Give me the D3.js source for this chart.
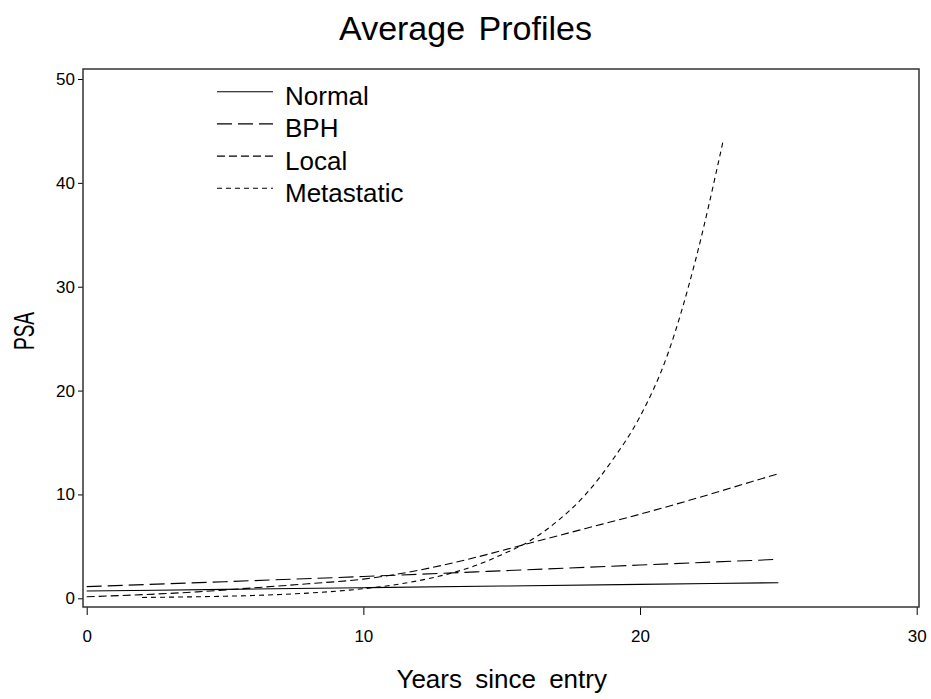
<!DOCTYPE html>
<html>
<head>
    <title>Average Profiles</title>
    <script src="https://d3js.org/d3.v7.min.js"></script>
    <style>
        body {
            margin: 0;
            background-color: #fff;
            font-family: "Liberation Sans", Arial, sans-serif;
        }

        .axis text {
            font: 17px "Liberation Sans", Arial, sans-serif;
            fill: #000;
        }

        .axis line {
            stroke: #000;
            stroke-width: 1px;
        }

        .profile {
            fill: none;
            stroke: #000;
            stroke-width: 1.1px;
        }
    </style>
</head>
<body>
    <svg width="931" height="699"></svg>

    <script>
        // Values
        var groups = ["Normal", "BPH", "Local", "Metastatic"];

        var normalYears = [0, 5, 10, 15, 20, 25];
        var normalPsa   = [0.7, 0.86, 1.02, 1.18, 1.34, 1.5];

        var bphYears = [0, 5, 10, 15, 20, 25];
        var bphPsa   = [1.12, 1.6, 2.1, 2.65, 3.2, 3.75];

        var localYears = [0, 2, 4, 6, 8, 10, 12, 14, 16, 18, 20, 22, 24, 25];
        var localPsa   = [0.15, 0.35, 0.62, 1.0, 1.4, 1.85, 2.7, 3.9, 5.3, 6.7, 8.1, 9.6, 11.2, 12.0];

        var metaYears = [2, 3, 4, 5, 6, 7, 8, 9, 10, 11, 12, 13, 14, 15, 16, 17, 18, 19, 20, 21, 22, 23];
        var metaPsa   = [0.08, 0.11, 0.15, 0.2, 0.27, 0.37, 0.5, 0.68, 0.92, 1.25, 1.7, 2.3, 3.1, 4.2,
                         5.5, 7.4, 9.9, 13.3, 17.5, 23.5, 32.5, 44];

        var xTicks = [0, 10, 20, 30];
        var yTicks = [0, 10, 20, 30, 40, 50];

        var dashes = ["none", "15,6", "8,4", "5,4"];

        function zip(xs, ys) {
            return xs.map(function(x, i) { return { year: x, psa: ys[i] }; });
        }

        var series = [
            zip(normalYears, normalPsa),
            zip(bphYears, bphPsa),
            zip(localYears, localPsa),
            zip(metaYears, metaPsa)
        ];

        var svg = d3.select("svg");

        // plot frame
        var frame = { left: 83, right: 919, top: 69, bottom: 607 };

        var x = d3.scaleLinear().domain([0, 30]).range([86.7, 916.7]);
        var y = d3.scaleLinear().domain([0, 50]).range([598.3, 79]);

        // title
        svg.append("text")
            .attr("x", 465.5)
            .attr("y", 40)
            .attr("text-anchor", "middle")
            .style("font-size", "34px")
            .style("word-spacing", "4px")
            .text("Average Profiles");

        // axes
        var xAxis = d3.axisBottom(x)
            .tickValues(xTicks)
            .tickSize(8)
            .tickPadding(15)
            .tickFormat(d3.format("d"));

        svg.append("g")
            .attr("class", "axis")
            .attr("transform", "translate(0," + frame.bottom + ")")
            .call(xAxis)
            .call(function(g) { g.select(".domain").remove(); });

        var yAxis = d3.axisLeft(y)
            .tickValues(yTicks)
            .tickSize(5)
            .tickPadding(3)
            .tickFormat(d3.format("d"));

        svg.append("g")
            .attr("class", "axis")
            .attr("transform", "translate(" + frame.left + ",0)")
            .call(yAxis)
            .call(function(g) { g.select(".domain").remove(); });

        svg.append("rect")
            .attr("x", frame.left)
            .attr("y", frame.top)
            .attr("width", frame.right - frame.left)
            .attr("height", frame.bottom - frame.top)
            .attr("fill", "none")
            .attr("stroke", "#333")
            .attr("stroke-width", 1.5);

        // axis labels
        svg.append("text")
            .attr("x", (x(0) + x(30)) / 2)
            .attr("y", 688)
            .attr("text-anchor", "middle")
            .style("font-size", "26px")
            .style("word-spacing", "6px")
            .text("Years since entry");

        svg.append("text")
            .attr("transform", "translate(34,331) rotate(-90)")
            .attr("text-anchor", "middle")
            .attr("textLength", 38)
            .attr("lengthAdjust", "spacingAndGlyphs")
            .style("font-size", "30px")
            .text("PSA");

        // profile lines
        var line = d3.line()
            .x(function(d) { return x(d.year); })
            .y(function(d) { return y(d.psa); })
            .curve(d3.curveMonotoneX);

        svg.append("g")
            .selectAll("path")
            .data(series)
            .enter().append("path")
            .attr("class", "profile")
            .attr("stroke-dasharray", function(d, i) { return dashes[i]; })
            .attr("d", line);

        // legend
        var legend = svg.append("g")
            .selectAll("g")
            .data(groups)
            .enter().append("g")
            .attr("transform", function(d, i) { return "translate(0," + (91.7 + i * 32.2) + ")"; });

        legend.append("line")
            .attr("class", "profile")
            .attr("x1", 217)
            .attr("x2", 273)
            .attr("y1", 0)
            .attr("y2", 0)
            .attr("stroke-dasharray", function(d, i) { return dashes[i]; });

        legend.append("text")
            .attr("x", 285)
            .attr("y", 13.5)
            .style("font-size", "26px")
            .text(function(d) { return d; });
    </script>
</body>
</html>
